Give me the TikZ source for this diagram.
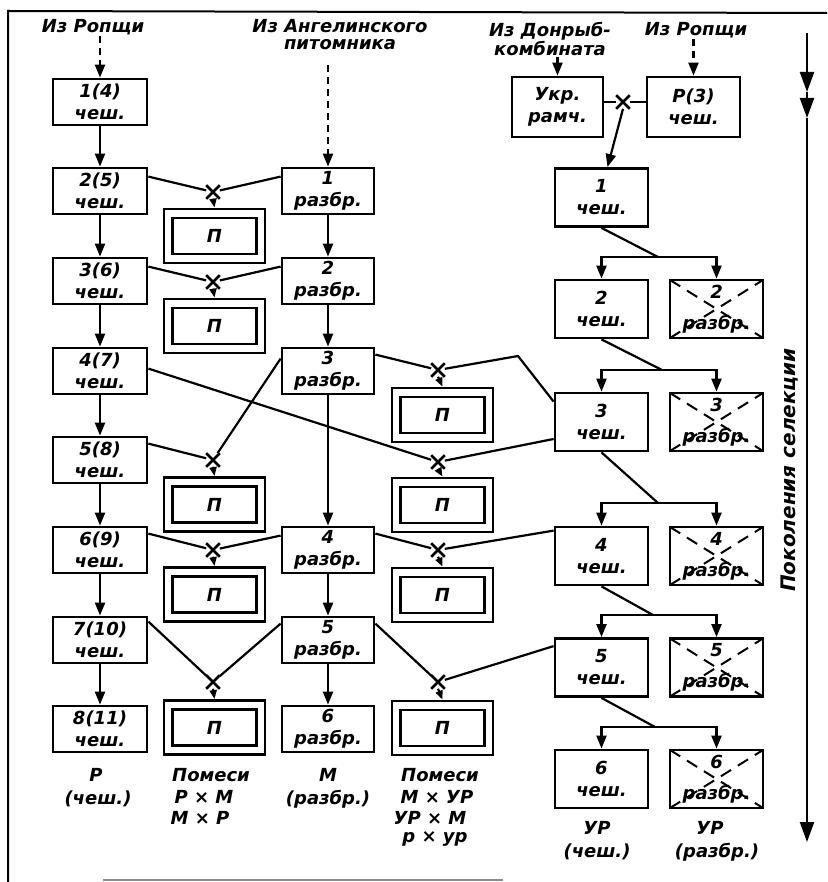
\documentclass[tikz,border=0pt]{standalone}
\usepackage{fontspec}
\setmainfont{DejaVu Sans}
\usetikzlibrary{arrows.meta,shapes.misc,calc}
\tikzset{
  lab/.style={font=\fontsize{18}{22}\selectfont\bfseries\itshape, inner sep=1pt, align=center},
  hdr/.style={lab, font=\fontsize{18}{17}\selectfont\bfseries\itshape},
  box/.style={lab, draw, line width=2.8pt, minimum width=94pt, minimum height=46pt, inner sep=0pt},
  mbox/.style={box, minimum width=92pt},
  rbox/.style={box, minimum width=93pt, minimum height=58pt},
  xbox/.style={rbox, path picture={\draw[line width=2pt, dash pattern=on 12pt off 8pt]
      (path picture bounding box.north west) -- (path picture bounding box.south east)
      (path picture bounding box.south west) -- (path picture bounding box.north east);}},
  pout/.style={draw, line width=2.8pt, minimum width=101pt, minimum height=54pt, inner sep=0pt},
  pin/.style={lab, draw, line width=2.8pt, minimum width=84pt, minimum height=36pt, inner sep=0pt},
  xmark/.style={draw, cross out, line width=2.6pt, minimum size=11pt, inner sep=0pt},
  conn/.style={line width=2.2pt},
  arr/.style={conn, -{Triangle[length=13pt,width=10pt]}},
  sarr/.style={conn, -{Triangle[length=9pt,width=7pt]}},
  darr/.style={arr, dash pattern=on 7pt off 5pt},
  axarr/.style={conn, -{Triangle[length=20pt,width=14pt]}},
}
\newcommand\mkpbox[3]{\node[pout] (#1) at (#2,#3) {}; \node[pin] (#1i) at (#2,#3) {П};}
\begin{document}
\begin{tikzpicture}[x=1pt,y=-1pt]
\useasboundingbox (0,0) rectangle (827,882);
% frame
\coordinate (f1) at (827,13); \coordinate (f2) at (8,11); \coordinate (f3) at (8,882);
\draw[line width=2pt] (f1) -- (f2) -- (f3);
\coordinate (f4) at (103,880); \coordinate (f5) at (503,880);
\draw[line width=1.5pt, black!45] (f4) -- (f5);

% headers
\node[hdr] (hL) at (93,27) {Из Ропщи};
\node[hdr] (hM) at (340,35) {Из Ангелинского\\питомника};
\node[hdr] (hD) at (550,39) {Из Донрыб-\\комбината};
\node[hdr] (hR) at (696,30) {Из Ропщи};

% left column
\node[box] (L1) at (100,102) {1(4)\\чеш.};
\node[box] (L2) at (100,191) {2(5)\\чеш.};
\node[box] (L3) at (100,281) {3(6)\\чеш.};
\node[box] (L4) at (100,371) {4(7)\\чеш.};
\node[box] (L5) at (100,460) {5(8)\\чеш.};
\node[box] (L6) at (100,550) {6(9)\\чеш.};
\node[box] (L7) at (100,640) {7(10)\\чеш.};
\node[box] (L8) at (100,729) {8(11)\\чеш.};
% middle column
\node[mbox] (M1) at (328,191) {1\\разбр.};
\node[mbox] (M2) at (328,281) {2\\разбр.};
\node[mbox] (M3) at (328,371) {3\\разбр.};
\node[mbox] (M4) at (328,550) {4\\разбр.};
\node[mbox] (M5) at (328,640) {5\\разбр.};
\node[mbox] (M6) at (328,729) {6\\разбр.};
% right column
\node[rbox, minimum width=91pt, minimum height=60pt] (U) at (557.5,107) {Укр.\\рамч.};
\node[rbox, minimum height=60pt] (R0) at (693.5,107) {Р(3)\\чеш.};
\node[rbox] (R1) at (601.5,197.5) {1\\чеш.};
\node[rbox] (R2) at (601.5,309) {2\\чеш.};
\node[rbox] (R3) at (601.5,422) {3\\чеш.};
\node[rbox] (R4) at (601.5,556) {4\\чеш.};
\node[rbox] (R5) at (601.5,667.5) {5\\чеш.};
\node[rbox] (R6) at (601.5,779) {6\\чеш.};
\node[xbox] (C2) at (716.5,309) {2\\[9pt]разбр.};
\node[xbox] (C3) at (716.5,422) {3\\[9pt]разбр.};
\node[xbox] (C4) at (716.5,556) {4\\[9pt]разбр.};
\node[xbox] (C5) at (716.5,667.5) {5\\[9pt]разбр.};
\node[xbox] (C6) at (716.5,779) {6\\[9pt]разбр.};

% P boxes
\mkpbox{P1}{214.5}{236}
\mkpbox{P2}{214.5}{326}
\mkpbox{P3}{214.5}{504.5}
\mkpbox{P4}{214.5}{594.5}
\mkpbox{P5}{214.5}{727.5}
\mkpbox{Q1}{442.5}{415}
\mkpbox{Q2}{442.5}{505}
\mkpbox{Q3}{442.5}{595}
\mkpbox{Q4}{442.5}{728}

% crosses
\node[xmark] (X1) at (213,192) {};
\node[xmark] (X2) at (213,282) {};
\node[xmark] (X3) at (438,370) {};
\node[xmark] (X4) at (438,462) {};
\node[xmark] (X5) at (213,460) {};
\node[xmark] (X6) at (213,550) {};
\node[xmark] (X7) at (438,550) {};
\node[xmark] (X8) at (213,682) {};
\node[xmark] (X9) at (438,682) {};
\node[xmark] (X10) at (623,102) {};

% dashed inputs
\draw[darr] (hL.south -| L1.north) -- (L1.north);
\draw[darr, shorten <=14pt] (hM.south -| M1.north) -- (M1.north);
\draw[darr] (hD.south -| U.north) -- (U.north);
\draw[darr] (hR.south -| R0.north) -- (R0.north);

% vertical lines
\foreach \a/\b in {L1/L2,L2/L3,L3/L4,L4/L5,L5/L6,L6/L7,L7/L8,M1/M2,M2/M3,M3/M4,M4/M5,M5/M6}
  \draw[arr] (\a) -- (\b);

% crossings
\draw[conn] ([yshift=-10pt]L2.north east) -- (X1) -- ([yshift=-10pt]M1.north west);
\draw[conn] ([yshift=-10pt]L3.north east) -- (X2) -- ([yshift=-10pt]M2.north west);
\coordinate (b3) at (518,356);
\draw[conn] ([yshift=-8pt]M3.north east) -- (X3) -- (b3) -- ([yshift=-10pt]R3.north west);
\draw[conn] ([yshift=-22pt]L4.north east) -- (X4) -- ([yshift=-17pt]R3.west);
\draw[conn] ([yshift=-8pt]L5.north east) -- (X5) -- ([yshift=-12pt]M3.north west);
\draw[conn] ([yshift=-8pt]L6.north east) -- (X6) -- ([yshift=-10pt]M4.north west);
\draw[conn] ([yshift=-8pt]M4.north east) -- (X7) -- ([yshift=-5pt]R4.north west);
\draw[conn] ([yshift=-6pt]L7.north east) -- (X8) -- ([yshift=-8pt]M5.north west);
\draw[conn] ([yshift=-8pt]M5.north east) -- (X9) -- ([yshift=-9pt]R5.north west);
\draw[conn] ([yshift=5pt]U.east) -- (X10) -- ([yshift=5pt]R0.west);
\foreach \x/\p in {X1/P1,X2/P2,X3/Q1,X4/Q2,X5/P3,X6/P4,X7/Q3,X8/P5,X9/Q4}
  \draw[sarr] (\x.south) -- (\p.north);
\draw[arr] (X10.south) -- ([xshift=6pt]R1.north);

% right tree
\coordinate (j1) at (658,257);
\coordinate (j2) at (662,370);
\coordinate (j3) at (658,503);
\coordinate (j4) at (653,615);
\coordinate (j5) at (655,727);
\foreach \k/\n in {1/2,2/3,3/4,4/5,5/6}{
  \draw[conn] (R\k.south) -- (j\k);
  \draw[arr] (j\k) -| (R\n.north);
  \draw[arr] (j\k) -| (C\n.north);
}

% bottom labels
\node[lab] (t1) at (96,775) {Р};
\node[lab] (t2) at (98,799) {(чеш.)};
\node[lab] (t3) at (211,775) {Помеси};
\node[lab] (t4) at (204,797) {Р × М};
\node[lab] (t5) at (200,818) {М × Р};
\node[lab] (t6) at (328,775) {М};
\node[lab] (t7) at (328,799) {(разбр.)};
\node[lab] (t8) at (440,775) {Помеси};
\node[lab] (t9) at (437,797) {М × УР};
\node[lab] (t10) at (430,818) {УР × М};
\node[lab] (t11) at (435,839) {р × ур};
\node[lab] (t12) at (597,828) {УР};
\node[lab] (t13) at (597,852) {(чеш.)};
\node[lab] (t14) at (710,828) {УР};
\node[lab] (t15) at (717,852) {(разбр.)};

% generations axis
\coordinate (g0) at (807,33);
\coordinate (g1) at (807,92);
\coordinate (g2) at (807,118);
\coordinate (g3) at (807,842);
\draw[axarr] (g0) -- (g1);
\draw[axarr] (g1) -- (g2);
\draw[axarr] (g2) -- (g3);
\node[lab, rotate=90, font=\fontsize{20}{24}\selectfont\bfseries\itshape] (gl) at (790,470) {Поколения селекции};
\end{tikzpicture}
\end{document}
